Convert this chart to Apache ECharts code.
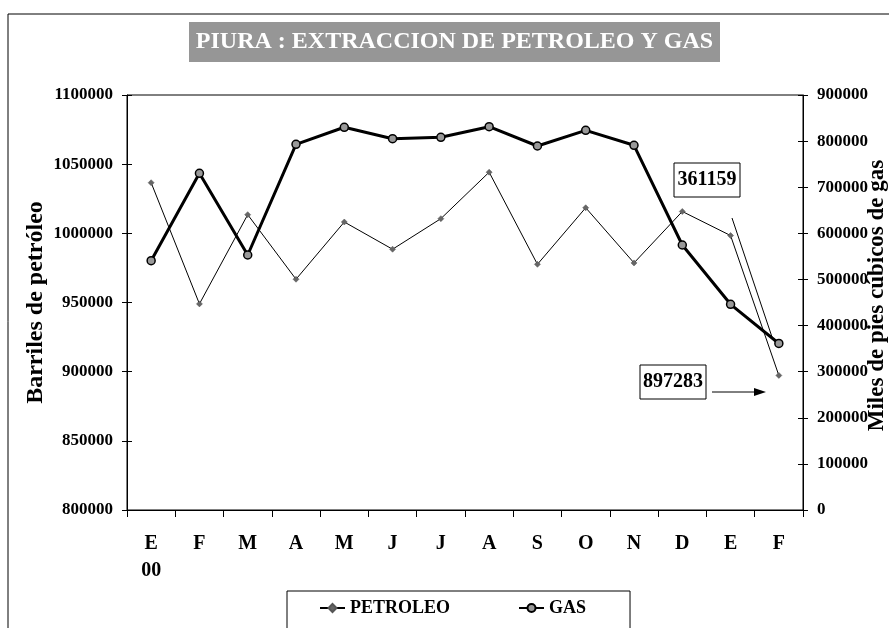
<!DOCTYPE html>
<html>
<head>
<meta charset="utf-8">
<script src="https://cdn.jsdelivr.net/npm/echarts@6/dist/echarts.min.js"></script>
<style>
html,body{margin:0;padding:0;background:#fff;}
#chart{width:889px;height:628px;}
</style>
</head>
<body>
<div id="chart"></div>
<script>
const months = ['E','F','M','A','M','J','J','A','S','O','N','D','E','F'];
const firstYear = '00';
const petroleo = [1036600, 949000, 1013500, 966800, 1008200, 988500, 1010600, 1044200, 977600, 1018500, 978600, 1015800, 998400, 897283];
const gas = [540700, 730200, 553000, 793100, 830000, 805200, 808300, 831300, 789400, 823400, 790900, 574700, 446100, 361159];
const leftAxis = {min: 800000, max: 1100000, interval: 50000};
const rightAxis = {min: 0, max: 900000, interval: 100000};
const titleText = 'PIURA : EXTRACCION DE PETROLEO Y GAS';

const FONT = '"Liberation Serif", "Times New Roman", serif';
const cats = months.map((m, i) => m + '_' + i);
const chart = echarts.init(document.getElementById('chart'));
const plain = v => String(Math.round(v));

const baseX = {
  type: 'category', data: cats, boundaryGap: true, gridIndex: 0
};
const option = {
  animation: false,
  backgroundColor: '#fff',
  grid: {left: 127, right: 86, top: 95, bottom: 118, show: true, borderColor: '#000', borderWidth: 1,
         containLabel: false, outerBoundsMode: 'none'},
  legend: {
    left: 287, top: 591,
    borderColor: '#000', borderWidth: 1,
    padding: [8, 44, 20, 32],
    itemWidth: 25, itemHeight: 10, itemGap: 68,
    textStyle: {fontFamily: FONT, fontWeight: 'bold', fontSize: 18, color: '#000'},
    data: ['PETROLEO', 'GAS']
  },
  xAxis: [
    Object.assign({}, baseX, {
      axisLine: {show: true, lineStyle: {color: '#000', width: 1}},
      axisTick: {show: true, inside: false, length: 7, lineStyle: {color: '#000'}},
      axisLabel: {
        margin: 20, color: '#000', fontFamily: FONT, fontWeight: 'bold', fontSize: 20, lineHeight: 27,
        interval: 0,
        formatter: (v, i) => i === 0 ? months[i] + '\n' + firstYear : months[i]
      },
      splitLine: {show: false}
    }),
    Object.assign({}, baseX, {
      axisLine: {show: false},
      axisTick: {show: true, inside: true, length: 7, lineStyle: {color: '#000'}},
      axisLabel: {show: false},
      splitLine: {show: false}
    })
  ],
  yAxis: [
    {
      type: 'value', position: 'left', min: leftAxis.min, max: leftAxis.max, interval: leftAxis.interval,
      axisLine: {show: true, lineStyle: {color: '#000'}},
      axisTick: {show: true, inside: false, length: 5, lineStyle: {color: '#000'}},
      axisLabel: {margin: 14, color: '#000', fontFamily: FONT, fontWeight: 'bold', fontSize: 17, formatter: plain},
      splitLine: {show: false},
      name: 'Barriles de petróleo', nameLocation: 'middle', nameRotate: 90, nameGap: 79, nameMoveOverlap: false,
      nameTextStyle: {fontFamily: FONT, fontWeight: 'bold', fontSize: 24, color: '#000'}
    },
    {
      type: 'value', position: 'right', min: rightAxis.min, max: rightAxis.max, interval: rightAxis.interval,
      axisLine: {show: true, lineStyle: {color: '#000'}},
      axisTick: {show: true, inside: false, length: 5, lineStyle: {color: '#000'}},
      axisLabel: {margin: 14, color: '#000', fontFamily: FONT, fontWeight: 'bold', fontSize: 17, formatter: plain},
      splitLine: {show: false},
      name: 'Miles de pies cúbicos de gas', nameLocation: 'middle', nameRotate: 90, nameGap: 63, nameMoveOverlap: false,
      nameTextStyle: {fontFamily: FONT, fontWeight: 'bold', fontSize: 23, color: '#000', padding: [0, 0, 0, 14]}
    },
    {
      type: 'value', position: 'left', min: leftAxis.min, max: leftAxis.max, interval: leftAxis.interval,
      axisLine: {show: false},
      axisTick: {show: true, inside: true, length: 5, lineStyle: {color: '#000'}},
      axisLabel: {show: false}, splitLine: {show: false}
    },
    {
      type: 'value', position: 'right', min: rightAxis.min, max: rightAxis.max, interval: rightAxis.interval,
      axisLine: {show: false},
      axisTick: {show: true, inside: true, length: 5, lineStyle: {color: '#000'}},
      axisLabel: {show: false}, splitLine: {show: false}
    }
  ],
  series: [
    {
      name: 'PETROLEO', type: 'line', xAxisIndex: 0, yAxisIndex: 0, data: petroleo,
      symbol: 'diamond', symbolSize: 6, showAllSymbol: true,
      lineStyle: {color: '#000', width: 1},
      itemStyle: {color: '#666', borderColor: '#555', borderWidth: 0.5},
      z: 3
    },
    {
      name: 'GAS', type: 'line', xAxisIndex: 0, yAxisIndex: 1, data: gas,
      symbol: 'circle', symbolSize: 8, showAllSymbol: true,
      lineStyle: {color: '#000', width: 3},
      itemStyle: {color: '#999', borderColor: '#000', borderWidth: 1.5},
      z: 4
    }
  ],
  graphic: [
    {type: 'rect', shape: {x: 8, y: 14, width: 900, height: 700}, style: {fill: 'none', stroke: '#000', lineWidth: 1}, z: -1, silent: true},
    {type: 'rect', shape: {x: 189, y: 22, width: 531, height: 40}, style: {fill: '#969696'}, z: 1},
    {type: 'text', x: 454.5, y: 42, style: {text: titleText, fill: '#fff', font: 'bold 24px ' + FONT, align: 'center', verticalAlign: 'middle'}, z: 2},
    {type: 'rect', shape: {x: 674, y: 163, width: 66, height: 34}, style: {fill: '#fff', stroke: '#000', lineWidth: 1}, z: 10},
    {type: 'text', x: 707, y: 180, style: {text: String(gas[gas.length - 1]), fill: '#000', font: 'bold 20px ' + FONT, align: 'center', verticalAlign: 'middle'}, z: 11},
    {type: 'rect', shape: {x: 640, y: 365, width: 66, height: 34}, style: {fill: '#fff', stroke: '#000', lineWidth: 1}, z: 10},
    {type: 'text', x: 673, y: 382, style: {text: String(petroleo[petroleo.length - 1]), fill: '#000', font: 'bold 20px ' + FONT, align: 'center', verticalAlign: 'middle'}, z: 11},
    {type: 'line', shape: {x1: 712, y1: 392, x2: 758, y2: 392}, style: {stroke: '#000', lineWidth: 1}, z: 10},
    {type: 'polygon', shape: {points: [[766, 392], [754, 388], [754, 396]]}, style: {fill: '#000'}, z: 10},
    {type: 'line', shape: {x1: 732, y1: 218, x2: 773, y2: 340}, style: {stroke: '#000', lineWidth: 1}, z: 10}
  ]
};
chart.setOption(option);
</script>
</body>
</html>
